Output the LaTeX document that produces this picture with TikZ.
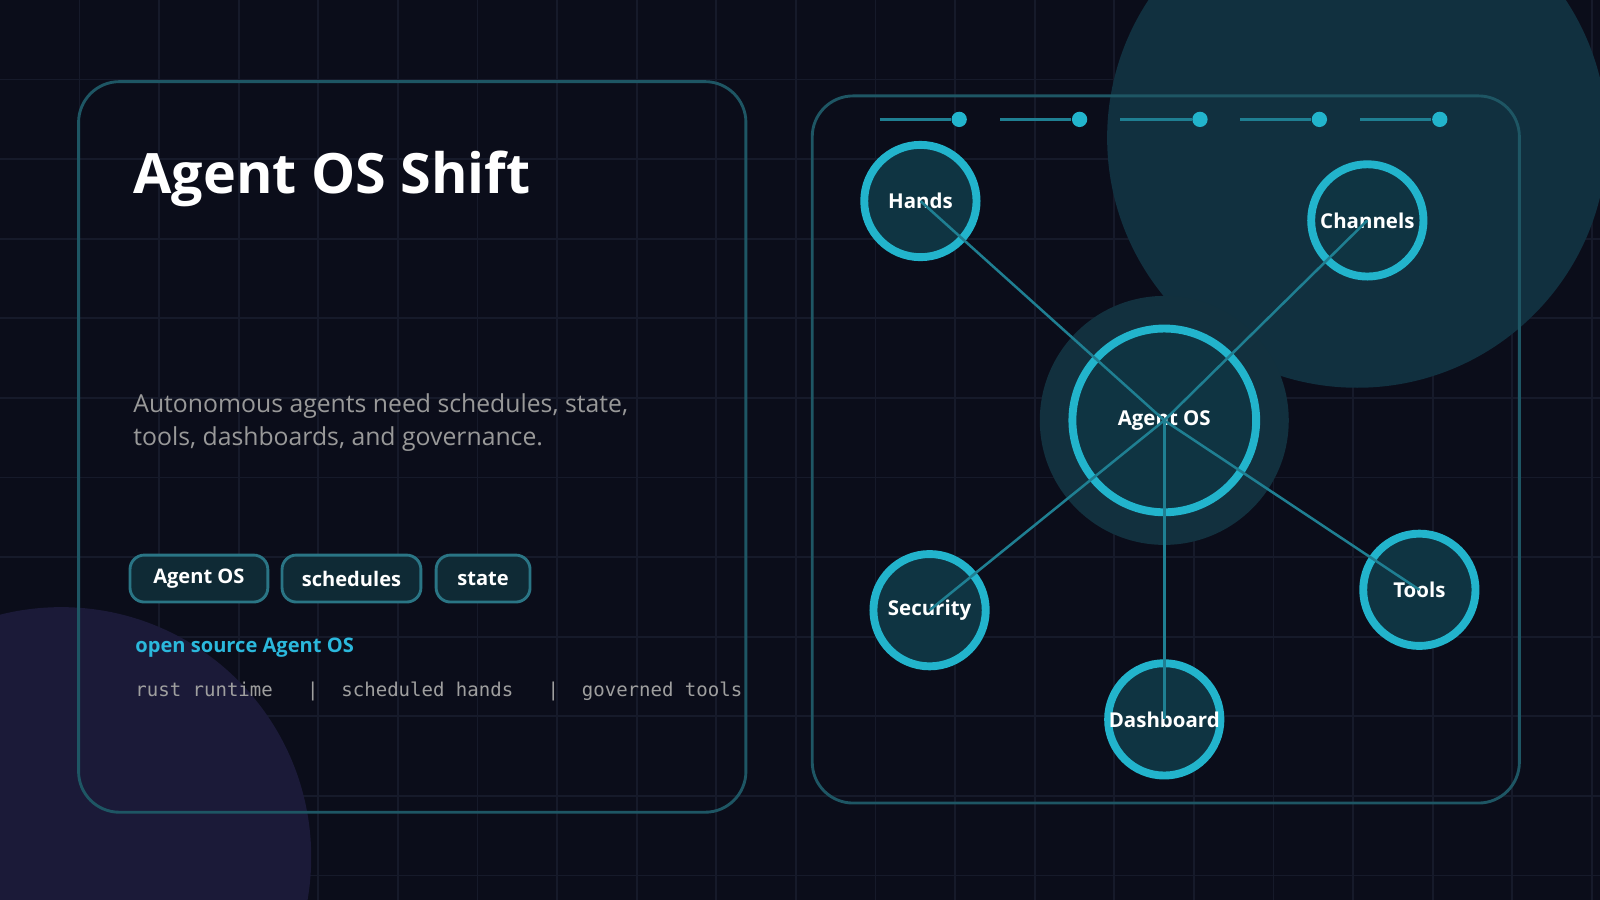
\documentclass[tikz,border=0pt]{standalone}
\usepackage{fontspec}
\setmainfont{Open Sans}
\newfontfamily\monof{DejaVu Sans Mono}
\definecolor{bg}{HTML}{0B0D1A}
\definecolor{gridc}{HTML}{161A2A}
\definecolor{panelb}{HTML}{1E5664}
\definecolor{bigc}{HTML}{11303F}
\definecolor{purp}{HTML}{1B1A38}
\definecolor{nodef}{HTML}{0F3442}
\definecolor{nodeb}{HTML}{22B4CC}
\definecolor{halo}{HTML}{12303E}
\definecolor{cyantx}{HTML}{2BB8DC}
\definecolor{pillf}{HTML}{0F2A35}
\definecolor{pillb}{HTML}{2A7585}
\definecolor{linec}{HTML}{1F7F92}
\tikzset{
 circnode/.style={circle,draw=nodeb,line width=2.2pt,fill=nodef,text=white,font=\bfseries\fontsize{5.7}{7}\selectfont,minimum size=1.1cm,inner sep=0pt},
 pill/.style={rounded corners=0.14cm,draw=pillb,line width=0.8pt,fill=pillf,text=white,font=\bfseries\fontsize{5.6}{7}\selectfont,minimum height=0.46cm,anchor=west},
 conn/.style={linec,line width=0.7pt},
 panel/.style={draw=panelb,line width=0.8pt,rounded corners=0.4cm}
}
\begin{document}
\begin{tikzpicture}[x=0.01cm,y=-0.01cm]
\useasboundingbox (0,0) rectangle (1568,882);
\fill[bg] (0,0) rectangle (1568,882);
\foreach \x in {78,156,...,1568} \draw[gridc,line width=0.5pt] (\x,0) -- (\x,882);
\foreach \y in {78,156,...,882} \draw[gridc,line width=0.5pt] (0,\y) -- (1568,\y);
\begin{scope}
\clip (0,0) rectangle (1568,882);
\fill[bigc] (1330,135) circle (245);
\fill[purp] (60,840) circle (245);
\end{scope}
% left panel
\draw[panel] (77,80) rectangle (731,796);
\node[anchor=west,text=white,font=\bfseries\fontsize{15.5}{18}\selectfont,inner sep=0pt] (title) at (130,175) {Agent OS Shift};
\node[anchor=north west,text=gray!80!white,font=\fontsize{6.9}{9.3}\selectfont,align=left,inner sep=0pt] (sub) at (130,385) {Autonomous agents need schedules, state,\\tools, dashboards, and governance.};
\node[pill,minimum width=1.35cm] (p1) at (126,567) {Agent OS};
\node[pill,minimum width=1.36cm] (p2) at (275,567) {schedules};
\node[pill,minimum width=0.92cm] (p3) at (426,567) {state};
\node[anchor=west,text=cyantx,font=\bfseries\fontsize{5.6}{7}\selectfont,inner sep=0pt] (os) at (132,635) {open source Agent OS};
\node[anchor=west,text=gray!75!white,font=\monof\fontsize{5.3}{7}\selectfont,inner sep=0pt] (mono) at (132,678) {rust runtime \ \ |\ \ scheduled hands \ \ |\ \ governed tools};
% right panel
\draw[panel] (796,94) rectangle (1489,787);
\foreach \i/\x in {1/940,2/1058,3/1176,4/1293,5/1411}{
 \coordinate (s\i) at (\x-78,117);
 \node[circle,fill=nodeb,minimum size=0.15cm,inner sep=0pt] (d\i) at (\x,117) {};
 \draw[linec,line width=0.8pt] (s\i) -- (d\i);
}
\fill[halo] (1141,412) circle (122);
\node[circnode,minimum size=1.8cm] (core) at (1141,412) {Agent OS};
\node[circnode] (hands) at (902,197) {Hands};
\node[circnode] (chan) at (1340,216) {Channels};
\node[circnode] (sec) at (911,598) {Security};
\node[circnode] (tools) at (1391,578) {Tools};
\node[circnode] (dash) at (1141,705) {Dashboard};
\foreach \n in {hands,chan,sec,tools,dash} \draw[conn] (core.center) -- (\n.center);
\end{tikzpicture}
\end{document}
